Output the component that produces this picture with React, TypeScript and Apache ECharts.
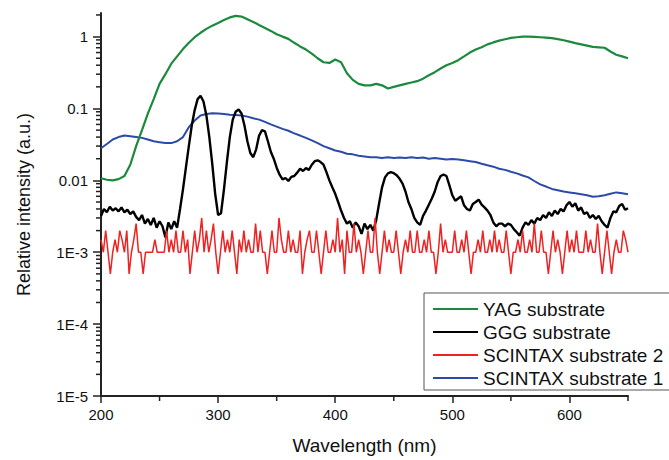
import React, { useEffect, useRef } from "react";
import * as echarts from "echarts";

// Wavelength sampling (nm)
const greenStart = 200, greenStep = 5;
const blueStart = 200, blueStep = 5;
const blackStart = 200, blackStep = 2.5;
const redStart = 200, redStep = 2;

// YAG substrate
const yagValues = [
  0.0107, 0.0102, 0.0100, 0.0104, 0.0115, 0.0165, 0.030, 0.050, 0.085, 0.135,
  0.22, 0.30, 0.42, 0.53, 0.67, 0.82, 0.98, 1.13, 1.28, 1.42,
  1.55, 1.70, 1.85, 1.94, 1.90, 1.75, 1.60, 1.45, 1.32, 1.20,
  1.08, 1.00, 0.93, 0.82, 0.73, 0.66, 0.58, 0.50, 0.44, 0.43,
  0.48, 0.44, 0.31, 0.25, 0.22, 0.21, 0.21, 0.22, 0.21, 0.19,
  0.20, 0.21, 0.22, 0.23, 0.24, 0.26, 0.29, 0.32, 0.36, 0.40,
  0.43, 0.47, 0.53, 0.60, 0.66, 0.71, 0.78, 0.83, 0.88, 0.92,
  0.96, 0.98, 1.00, 1.00, 0.99, 0.98, 0.97, 0.95, 0.92, 0.89,
  0.85, 0.81, 0.78, 0.75, 0.72, 0.71, 0.70, 0.62, 0.56, 0.53,
  0.50,
];

// SCINTAX substrate 1
const scintax1Values = [
  0.028, 0.032, 0.037, 0.040, 0.042, 0.041, 0.040, 0.039, 0.037, 0.035,
  0.034, 0.033, 0.033, 0.035, 0.040, 0.055, 0.068, 0.080, 0.084, 0.086,
  0.085, 0.084, 0.082, 0.081, 0.080, 0.077, 0.073, 0.070, 0.065, 0.060,
  0.056, 0.052, 0.049, 0.045, 0.042, 0.039, 0.036, 0.033, 0.030, 0.028,
  0.026, 0.025, 0.0235, 0.023, 0.022, 0.0215, 0.021, 0.021, 0.0205, 0.021,
  0.0205, 0.0208, 0.0205, 0.021, 0.0205, 0.0208, 0.020, 0.0205, 0.020, 0.0195,
  0.0198, 0.0195, 0.019, 0.0185, 0.018, 0.017, 0.0162, 0.0155, 0.0145, 0.014,
  0.0132, 0.0125, 0.0117, 0.011, 0.0098, 0.0088, 0.0082, 0.0076, 0.0073, 0.0070,
  0.0068, 0.0066, 0.0064, 0.0062, 0.0059, 0.0060, 0.0062, 0.0065, 0.0068, 0.0066,
  0.0064,
];

// GGG substrate
const gggValues = [
  0.0032, 0.0040, 0.0036, 0.0043, 0.0038, 0.0041, 0.0037, 0.0042, 0.0036, 0.0039,
  0.0034, 0.0037, 0.0031, 0.0028, 0.0033, 0.0025, 0.0029, 0.0024, 0.0030, 0.0022,
  0.0027, 0.0023, 0.0016, 0.0026, 0.0021, 0.0027, 0.0022, 0.0040, 0.0075, 0.015,
  0.030, 0.058, 0.095, 0.135, 0.150, 0.125, 0.080, 0.040, 0.017, 0.0065,
  0.0033, 0.0035, 0.0075, 0.018, 0.040, 0.070, 0.090, 0.097, 0.085, 0.058,
  0.035, 0.024, 0.021, 0.027, 0.042, 0.050, 0.048, 0.035, 0.025, 0.020,
  0.015, 0.012, 0.0103, 0.0108, 0.0098, 0.0112, 0.0115, 0.0128, 0.0145, 0.0135,
  0.0148, 0.0140, 0.0165, 0.0185, 0.0190, 0.0180, 0.0165, 0.0130, 0.0100, 0.0080,
  0.0065, 0.0050, 0.0038, 0.0030, 0.0025, 0.0027, 0.0022, 0.0026, 0.0023, 0.0018,
  0.0025, 0.0021, 0.0024, 0.0020, 0.0028, 0.0048, 0.0080, 0.0110, 0.0125, 0.0130,
  0.0126, 0.0118, 0.0105, 0.0090, 0.0070, 0.0050, 0.0040, 0.0030, 0.0026, 0.0024,
  0.0032, 0.0038, 0.0046, 0.0056, 0.0070, 0.0095, 0.0115, 0.0120, 0.0115, 0.0085,
  0.0062, 0.0052, 0.0056, 0.0060, 0.0045, 0.0040, 0.0038, 0.0047, 0.0050, 0.0054,
  0.0046, 0.0042, 0.0038, 0.0033, 0.0026, 0.0023, 0.0025, 0.0025, 0.0023, 0.0025,
  0.0024, 0.0021, 0.0019, 0.0017, 0.0022, 0.0026, 0.0024, 0.0028, 0.0025, 0.0030,
  0.0028, 0.0033, 0.0030, 0.0036, 0.0032, 0.0038, 0.0034, 0.0040, 0.0037, 0.0045,
  0.0050, 0.0043, 0.0048, 0.0038, 0.0042, 0.0034, 0.0036, 0.0030, 0.0033, 0.0029,
  0.0032, 0.0027, 0.0024, 0.0022, 0.0030, 0.0037, 0.0036, 0.0044, 0.0047, 0.0039,
  0.0041,
];

// SCINTAX substrate 2 (units of 1E-3)
const scintax2ValuesMilli = [
  1.5, 1, 2, 1, 0.5, 1, 1.5, 1, 2, 1.5,
  1, 2, 0.5, 1, 1.5, 2.5, 1, 1, 0.5, 1,
  1, 1, 1, 1.5, 1, 1, 1, 1, 2, 1,
  1.5, 1, 2, 1, 1, 2, 1, 1.5, 0.5, 1,
  2, 1, 1.5, 3, 1, 2, 1, 1.5, 2.5, 1,
  0.5, 1, 2, 1, 1.5, 1, 2, 1, 0.5, 1.5,
  1, 2, 1, 1.5, 1, 1, 2.5, 1, 2, 1,
  1, 0.5, 1, 2, 1, 1, 3, 1.5, 1, 1,
  2, 1, 1.5, 1, 1, 2, 0.5, 1, 1.5, 2,
  1, 1, 2, 1, 0.5, 1, 2, 1, 1, 1.5,
  1, 3, 1, 1.5, 0.5, 2, 1, 1, 2.5, 1,
  1.5, 1, 0.5, 1, 2, 1, 1, 3, 1, 0.5,
  1, 2, 1, 1.5, 1, 1, 2, 1, 0.5, 1,
  1.5, 1, 2, 1, 1, 2, 1, 1, 1.5, 1,
  2, 1, 1, 0.5, 1, 2.5, 1, 1.5, 1, 1,
  1, 2, 1, 1, 1.5, 1, 2, 1, 0.5, 1,
  1, 1.5, 1, 2, 1, 1, 1.5, 1, 2, 1,
  1.5, 1, 1, 2, 1, 0.5, 1, 1, 1.5, 1,
  2, 1, 1, 1.5, 1, 2.5, 1, 1, 2, 1,
  1, 0.5, 1, 2, 1, 1.5, 1, 0.5, 1, 2,
  1, 1.5, 1, 2, 1, 1, 1, 2, 1, 1.5,
  1, 1, 2.5, 1, 0.5, 1, 2, 1, 0.5, 1,
  1.5, 1, 1, 2, 1.5, 1,
];

// Axis ticks
const yMajorTicks = [1e-5, 1e-4, 1e-3, 0.01, 0.1, 1];
const yMinorTicks = [
  2e-5, 3e-5, 4e-5, 5e-5, 6e-5, 7e-5, 8e-5, 9e-5,
  2e-4, 3e-4, 4e-4, 5e-4, 6e-4, 7e-4, 8e-4, 9e-4,
  2e-3, 3e-3, 4e-3, 5e-3, 6e-3, 7e-3, 8e-3, 9e-3,
  0.02, 0.03, 0.04, 0.05, 0.06, 0.07, 0.08, 0.09,
  0.2, 0.3, 0.4, 0.5, 0.6, 0.7, 0.8, 0.9,
  2,
];
const yTickLabels = ["1E-5", "1E-4", "1E-3", "0.01", "0.1", "1"];
const xMajorTicks = [200, 300, 400, 500, 600];
const xMinorTicks = [250, 350, 450, 550, 650];

const FONT = "'Liberation Sans', Arial, Helvetica, sans-serif";

function toPairs(start: number, step: number, vals: number[], scale = 1) {
  return vals.map((v, i) => [start + i * step, v * scale]);
}

function yLabel(v: number) {
  let best = -1;
  let bestDiff = Infinity;
  yMajorTicks.forEach((t, i) => {
    const d = Math.abs(Math.log10(v) - Math.log10(t));
    if (d < bestDiff) { bestDiff = d; best = i; }
  });
  return bestDiff < 0.01 ? yTickLabels[best] : "";
}

export default function App() {
  const ref = useRef<HTMLDivElement>(null);
  useEffect(() => {
    if (!ref.current) return;
    const chart = echarts.init(ref.current, undefined, { renderer: "svg" });
    const tickColor = "#222";
    const yMax = 2.13;
    const minorYData = yMinorTicks.map((v) => [200, v]);
    const minorXData = xMinorTicks.map((v) => [v, 1e-5]);
    chart.setOption({
      animation: false,
      grid: { left: 101, top: 13, width: 527, height: 389 },
      legend: {
        data: ["YAG substrate", "GGG substrate", "SCINTAX substrate 2", "SCINTAX substrate 1"],
        orient: "vertical",
        left: 424,
        top: 293,
        icon: "rect",
        itemWidth: 45,
        itemHeight: 2,
        itemGap: 1,
        padding: [5, 10, 1, 9],
        borderColor: "#555",
        borderWidth: 1,
        backgroundColor: "#fff",
        textStyle: { fontSize: 19, color: "#111", fontFamily: FONT, lineHeight: 22 },
      },
      xAxis: {
        type: "value",
        min: 200,
        max: 650,
        interval: 50,
        name: "Wavelength (nm)",
        nameLocation: "middle",
        nameGap: 40,
        nameTextStyle: { fontSize: 19, color: "#111", fontFamily: FONT },
        axisLine: { lineStyle: { color: tickColor, width: 2 } },
        axisTick: { show: true, customValues: xMajorTicks, length: 7, lineStyle: { color: tickColor, width: 1.5 } },
        splitLine: { show: false },
        axisLabel: { customValues: xMajorTicks, fontSize: 15, color: "#111", margin: 11, fontFamily: FONT },
      },
      yAxis: {
        type: "log",
        min: 1e-5,
        max: yMax,
        name: "Relative intensity (a.u.)",
        nameLocation: "middle",
        nameGap: 68,
        nameTextStyle: { fontSize: 18, color: "#111", fontFamily: FONT },
        axisLine: { lineStyle: { color: tickColor, width: 2 } },
        axisTick: { show: true, customValues: yMajorTicks, length: 8, lineStyle: { color: tickColor, width: 1.5 } },
        splitLine: { show: false },
        axisLabel: {
          customValues: yMajorTicks,
          fontSize: 15,
          color: "#111",
          margin: 13,
          fontFamily: FONT,
          formatter: (v: number) => yLabel(v),
        },
      },
      series: [
        {
          name: "SCINTAX substrate 1",
          type: "line",
          symbol: "none",
          data: toPairs(blueStart, blueStep, scintax1Values),
          lineStyle: { color: "#2c4ba8", width: 2 },
          itemStyle: { color: "#2c4ba8" },
        },
        {
          name: "GGG substrate",
          type: "line",
          symbol: "none",
          data: toPairs(blackStart, blackStep, gggValues),
          lineStyle: { color: "#000", width: 2.4 },
          itemStyle: { color: "#000" },
        },
        {
          name: "SCINTAX substrate 2",
          type: "line",
          symbol: "none",
          data: toPairs(redStart, redStep, scintax2ValuesMilli, 0.001),
          lineStyle: { color: "#ee2222", width: 1.5 },
          itemStyle: { color: "#ee2222" },
        },
        {
          name: "YAG substrate",
          type: "line",
          symbol: "none",
          data: toPairs(greenStart, greenStep, yagValues),
          lineStyle: { color: "#1b8a3c", width: 2.2 },
          itemStyle: { color: "#1b8a3c" },
        },
        {
          name: "minorY",
          type: "custom",
          data: minorYData,
          renderItem: (params: any, api: any) => {
            const pt = api.coord([api.value(0), api.value(1)]);
            return {
              type: "rect",
              shape: { x: pt[0] - 5, y: pt[1] - 0.75, width: 5, height: 1.5 },
              style: { fill: tickColor },
            };
          },
        },
        {
          name: "minorX",
          type: "custom",
          data: minorXData,
          renderItem: (params: any, api: any) => {
            const pt = api.coord([api.value(0), api.value(1)]);
            return {
              type: "rect",
              shape: { x: pt[0] - 0.75, y: pt[1], width: 1.5, height: 5 },
              style: { fill: tickColor },
            };
          },
        },
      ],
    });
    return () => chart.dispose();
  }, []);
  return (
    <div
      ref={ref}
      style={{ position: "fixed", left: 0, top: 0, width: 669, height: 460, background: "#fff" }}
    />
  );
}
